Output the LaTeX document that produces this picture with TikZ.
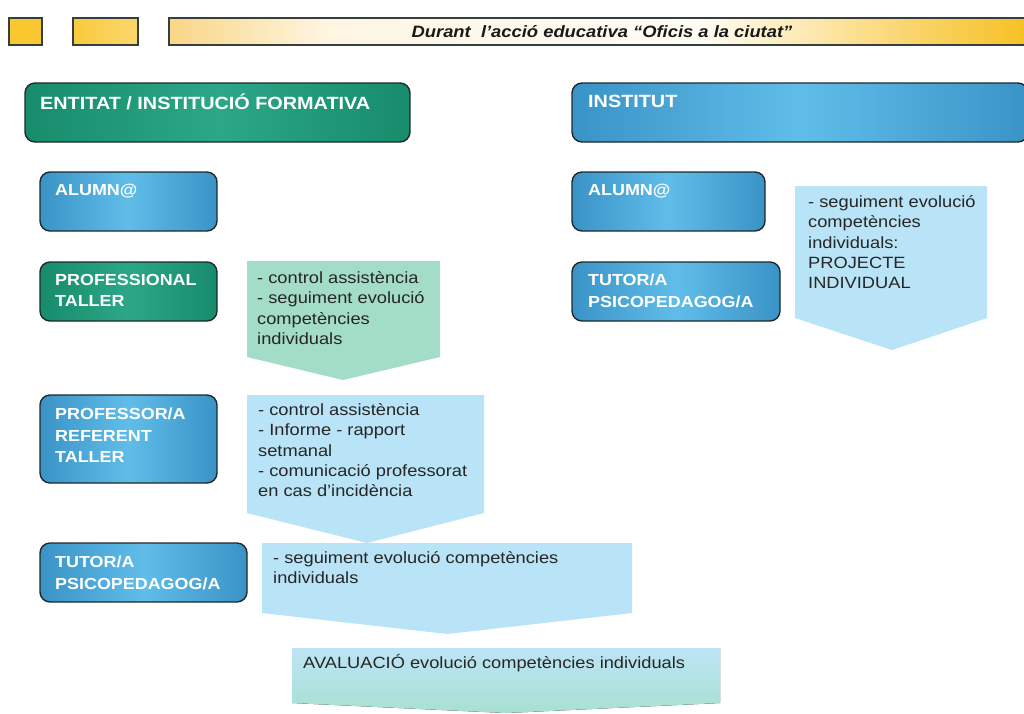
\documentclass[tikz,border=0pt]{standalone}
\usepackage{fontspec}
\setmainfont{Liberation Sans}[FakeStretch=1.12]
\definecolor{boxline}{HTML}{1E2A2A}
\definecolor{gdark}{HTML}{178C6C}
\definecolor{glight}{HTML}{2BA787}
\definecolor{bdark}{HTML}{3A93C6}
\definecolor{blight}{HTML}{60BDE9}
\definecolor{lgreen}{HTML}{A3DCC7}
\definecolor{lblue}{HTML}{B9E3F6}
\definecolor{avtop}{HTML}{BDE4F6}
\definecolor{avbot}{HTML}{A8E0D2}
\definecolor{bodytext}{HTML}{262626}
\definecolor{ya}{HTML}{F9C730}
\definecolor{yb}{HTML}{F9CA3C}
\definecolor{yc}{HTML}{FBD66E}
\definecolor{bpale}{HTML}{F9D687}
\definecolor{bw}{HTML}{FEF5E2}
\definecolor{bw2}{HTML}{FFFCF5}
\definecolor{byr}{HTML}{F7BF22}
\tikzset{
  rbox/.style={draw=boxline, line width=1.4pt, rounded corners=10pt, anchor=north west, inner sep=0pt, outer sep=0pt},
  gbox/.style={rbox, left color=gdark, right color=gdark, middle color=glight},
  bbox/.style={rbox, left color=bdark, right color=bdark, middle color=blight},
  lbl/.style={anchor=north west, inner sep=0pt, align=left, text=white, font=\fontsize{16}{21.5}\selectfont\bfseries},
  hdr/.style={lbl, font=\fontsize{17.7}{21.5}\selectfont\bfseries},
  body/.style={anchor=north west, inner sep=0pt, align=left, text=bodytext, font=\fontsize{16.3}{20.4}\selectfont},
  ybord/.style={draw=boxline!90, line width=1.2pt},
}
\begin{document}
\begin{tikzpicture}[x=1pt, y=-1pt]
\useasboundingbox (0,0) rectangle (1024,713);
\fill[white] (0,0) rectangle (1024,713);

% top banner
\path[ybord, fill=ya] (9,18) rectangle (42,45);
\path[ybord, left color=yb, right color=yc] (73,18) rectangle (138,45);
\fill[left color=bpale, right color=bw] (169,18) rectangle (330,45);
\fill[left color=bw, right color=bw2] (329.5,18) rectangle (700,45);
\fill[left color=bw2, right color=byr] (699.5,18) rectangle (1030,45);
\draw[ybord] (169,18) rectangle (1030,45);
\node[font=\fontsize{16.4}{18}\selectfont\bfseries\itshape, text=black!90, inner sep=0pt] (title) at (602,31.5) {Durant\ \ l’acció educativa “Oficis a la ciutat”};

% header boxes
\node[gbox, minimum width=385pt, minimum height=59pt] (entitat) at (25,83) {};
\node[hdr] (entitatT) at (40,94) {ENTITAT / INSTITUCIÓ FORMATIVA};
\node[bbox, minimum width=456pt, minimum height=59pt] (institut) at (572,83) {};
\node[hdr] (institutT) at (588,95) {INSTITUT};

% left column
\node[bbox, minimum width=177pt, minimum height=59pt] (alumL) at (40,172) {};
\node[lbl] (alumLT) at (55,184) {ALUMN@};
\node[gbox, minimum width=177pt, minimum height=59pt] (prof) at (40,262) {};
\node[lbl] (profT) at (55,274) {PROFESSIONAL\\TALLER};
\node[bbox, minimum width=177pt, minimum height=88pt] (ref) at (40,395) {};
\node[lbl] (refT) at (55,408) {PROFESSOR/A\\REFERENT\\TALLER};
\node[bbox, minimum width=207pt, minimum height=59pt] (tutL) at (40,543) {};
\node[lbl] (tutLT) at (55,556) {TUTOR/A\\PSICOPEDAGOG/A};

% right column
\node[bbox, minimum width=193pt, minimum height=59pt] (alumR) at (572,172) {};
\node[lbl] (alumRT) at (588,184) {ALUMN@};
\node[bbox, minimum width=208pt, minimum height=59pt] (tutR) at (572,262) {};
\node[lbl] (tutRT) at (588,274) {TUTOR/A\\PSICOPEDAGOG/A};

% block arrows
\fill[lgreen] (247,261) -- (440,261) -- (440,357) -- (343,380) -- (247,357) -- cycle;
\node[body] (b1) at (257,271) {- control assistència\\- seguiment evolució\\competències\\individuals};

\fill[lblue] (247,395) -- (484,395) -- (484,513) -- (367,543) -- (247,513) -- cycle;
\node[body] (b2) at (258,403) {- control assistència\\- Informe - rapport\\setmanal\\- comunicació professorat\\en cas d’incidència};

\fill[lblue] (262,543) -- (632,543) -- (632,613) -- (447,634) -- (262,613) -- cycle;
\node[body] (b3) at (273,551) {- seguiment evolució competències\\individuals};

\fill[top color=avtop, bottom color=avbot] (292,648) -- (720,648) -- (720,703) -- (506,713) -- (292,703) -- cycle;
\node[body] (b4) at (303,654) {AVALUACIÓ evolució competències individuals};

\fill[lblue] (795,186) -- (987,186) -- (987,318) -- (892,350) -- (795,318) -- cycle;
\node[body] (b5) at (808,195) {- seguiment evolució\\competències\\individuals:\\PROJECTE\\INDIVIDUAL};
\end{tikzpicture}
\end{document}
